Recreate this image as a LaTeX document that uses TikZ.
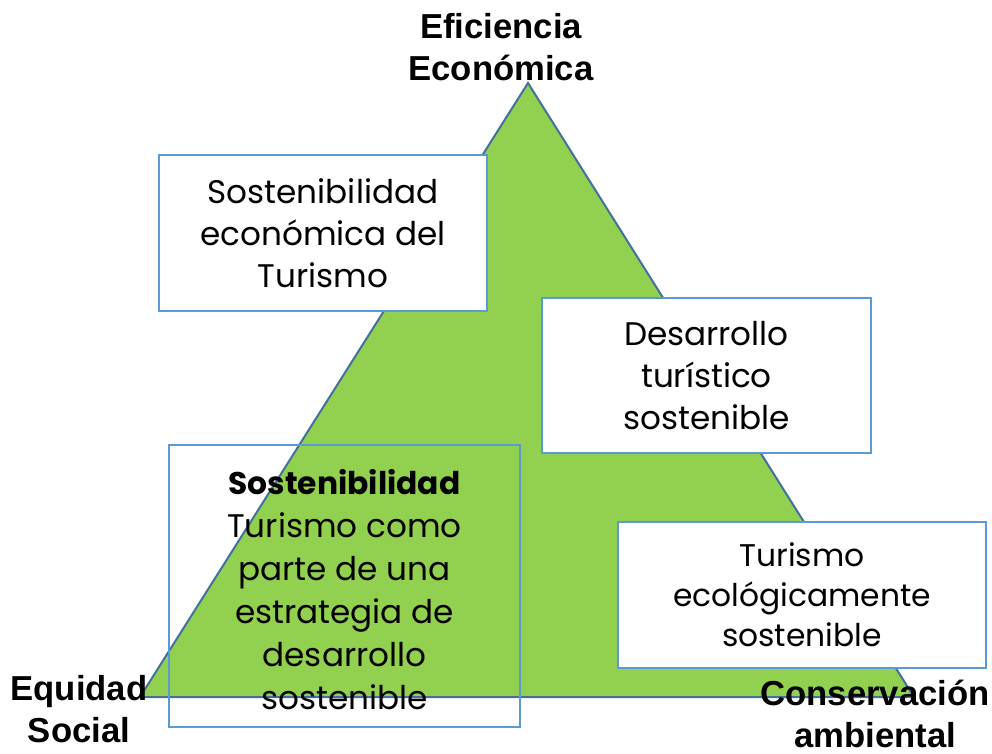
\documentclass[tikz,border=0pt]{standalone}
\usepackage{fontspec}
\setmainfont{Poppins}
\newfontfamily\labelfont{Liberation Sans}
\usetikzlibrary{positioning}
\definecolor{leafgreen}{HTML}{92D050}
\definecolor{edgeblue}{HTML}{41719C}
\definecolor{boxblue}{HTML}{5B9BD5}
\newcommand{\boxtext}{\fontsize{24.5}{31.5}\selectfont}
\newcommand{\tallboxtext}{\fontsize{24.5}{32.2}\selectfont}
\newcommand{\smallboxtext}{\fontsize{23.5}{30}\selectfont}
\tikzstyle{block} = [rectangle, draw=boxblue, line width=1.5pt, fill=white, inner sep=0pt, font=\boxtext]
\tikzstyle{corner} = [inner sep=0pt, font=\labelfont\bfseries\fontsize{26}{31.5}\selectfont]

\begin{document}
\begin{tikzpicture}[every text node part/.style={align=center}, x=0.75pt, y=-0.75pt]
   \useasboundingbox (0,0) rectangle (992,753);
   % Triangle
   \coordinate (top) at (528,83);
   \coordinate (lft) at (140,697);
   \coordinate (rgt) at (914,697);
   \draw [edgeblue, line width=1.5pt, fill=leafgreen] (top) -- (lft) -- (rgt) -- cycle;

   % Place nodes
   \node [block, minimum width=246pt, minimum height=117pt] (econ) at (323,233) {Sostenibilidad \\ económica del \\ Turismo};
   \node [block, minimum width=246.75pt, minimum height=116.25pt] (dev) at (706.5,375.5) {Desarrollo \\ turístico \\ sostenible};
   \node [block, minimum width=276pt, minimum height=109.5pt, font=\smallboxtext] (eco) at (802,595) {Turismo \\ ecológicamente \\ sostenible};
   \node [block, fill=none, minimum width=263.25pt, minimum height=211.5pt] (sust) at (344.5,586) {};
   \node [inner sep=0pt, font=\tallboxtext, below = 19pt of sust.north] (sust-txt) {{\fontsize{23.5}{32.2}\selectfont\bfseries Sostenibilidad} \\ Turismo como \\ parte de una \\ estrategia de \\ desarrollo \\ sostenible};

   % Corner labels
   \node [corner] (eff) at (501,47) {Eficiencia \\ Económica};
   \node [corner] (soc) at (79,709) {Equidad \\ Social};
   \node [corner] (env) at (875,714) {Conservación \\ ambiental};
\end{tikzpicture}
\end{document}
